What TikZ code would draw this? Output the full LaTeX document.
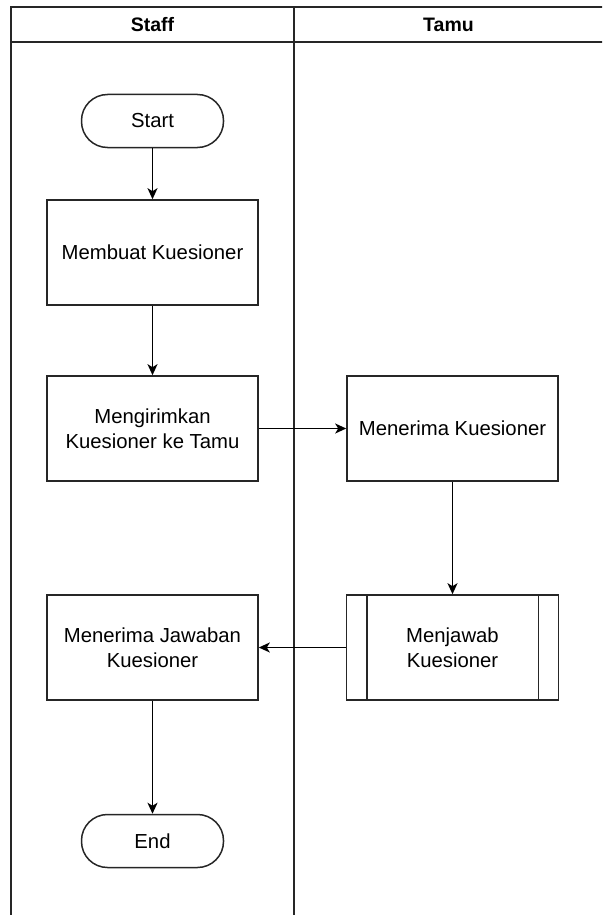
\documentclass[tikz,border=0pt]{standalone}
\usepackage{fontspec}
\setmainfont{Liberation Sans}
\usetikzlibrary{arrows.meta,calc}
\begin{document}
\begin{tikzpicture}[x=1pt,y=-1pt,
  lane/.style={line width=1.8pt,draw=black!85},
  proc/.style={draw=black!85,line width=1.6pt,minimum width=211pt,minimum height=105pt,
    align=center,inner sep=0pt,font=\fontsize{20.3}{25}\selectfont},
  term/.style={draw=black!85,line width=1.5pt,rounded corners=26pt,minimum width=142pt,
    minimum height=53pt,inner sep=0pt,font=\fontsize{20.3}{25}\selectfont},
  flow/.style={line width=1.6pt,draw=black,-{Stealth[length=11pt,width=10pt,inset=3pt]}},
  head/.style={font=\bfseries\fontsize{19.5}{25}\selectfont,inner sep=0pt}]
\useasboundingbox (0,0) rectangle (602,915);
\clip (0,0) rectangle (602,915);
% swimlane frame
\draw[lane] (11,930) -- (11,7) -- (610,7);
\draw[lane] (11,42) -- (610,42);
\draw[lane] (294,7) -- (294,930);
\node[head] (hstaff) at (152.5,25) {Staff};
\node[head] (htamu) at (448.5,25) {Tamu};
% steps
\node[term] (start) at (152.5,121) {Start};
\node[proc] (make) at (152.5,252.5) {Membuat Kuesioner};
\node[proc] (send) at (152.5,428.5) {Mengirimkan\\Kuesioner ke Tamu};
\node[proc] (recv) at (452.5,428.5) {Menerima Kuesioner};
\node[proc,minimum width=212pt] (answer) at (452.5,647.5) {Menjawab\\Kuesioner};
\draw[draw=black!85,line width=1.6pt] ($(answer.north west)+(21,0)$) -- ($(answer.south west)+(21,0)$);
\draw[draw=black!85,line width=1.6pt] ($(answer.north east)+(-21,0)$) -- ($(answer.south east)+(-21,0)$);
\node[proc] (got) at (152.5,647.5) {Menerima Jawaban\\Kuesioner};
\node[term] (end) at (152.5,841) {End};
% connectors
\draw[flow] (start) -- (make);
\draw[flow] (make) -- (send);
\draw[flow] (send) -- (recv);
\draw[flow] (recv) -- (answer);
\draw[flow] (answer) -- (got);
\draw[flow] (got) -- (end);
\end{tikzpicture}
\end{document}
